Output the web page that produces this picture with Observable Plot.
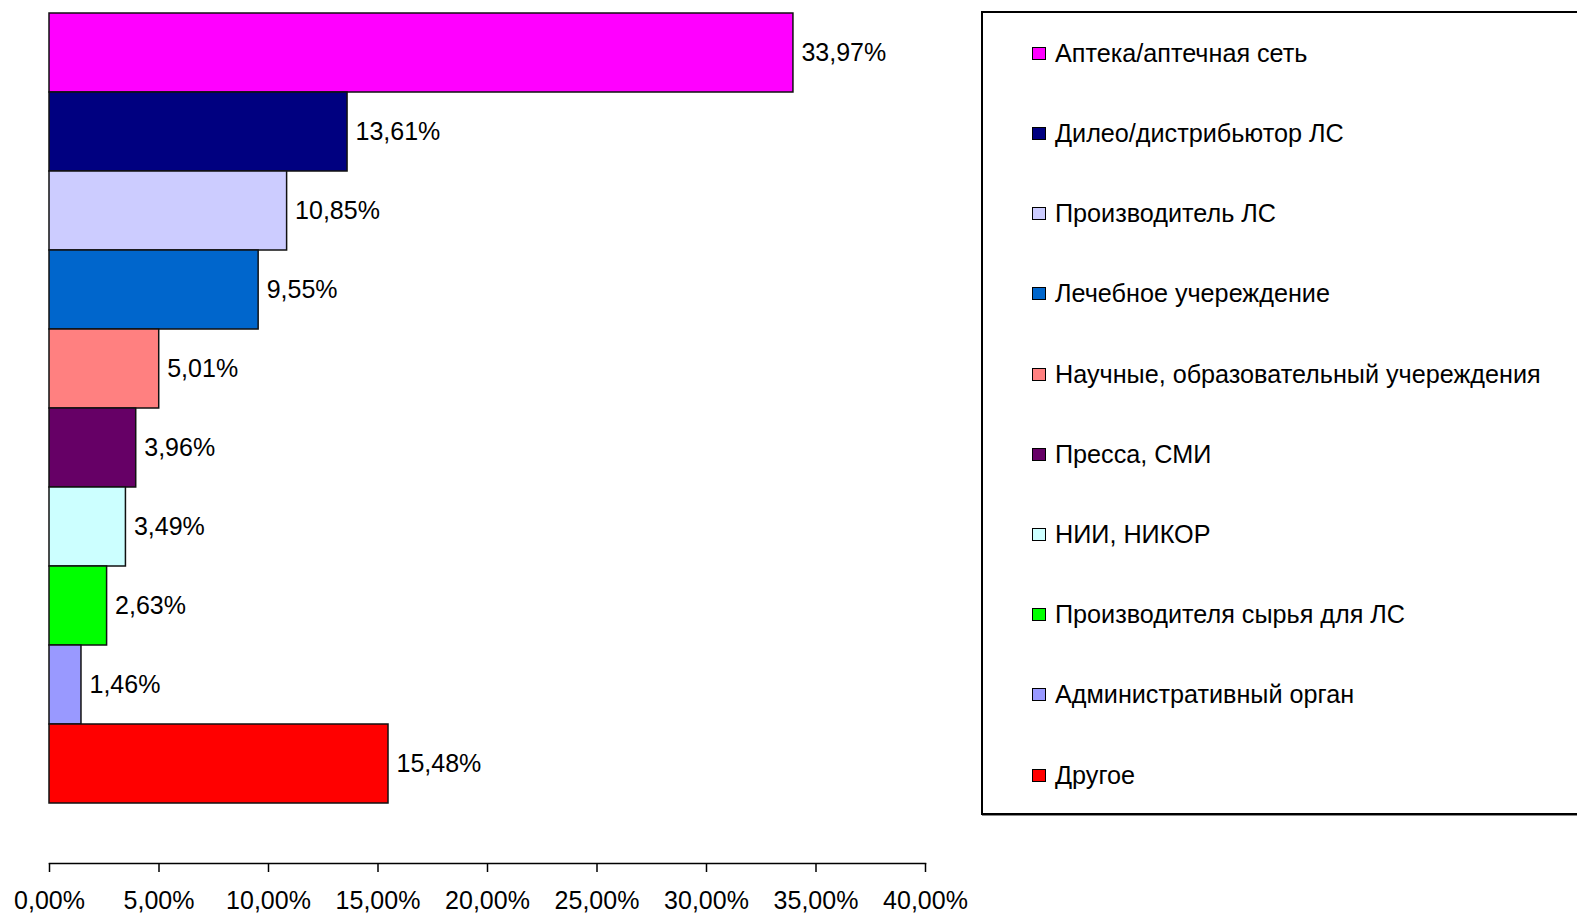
<!DOCTYPE html>
<html>
<head>
<meta charset="utf-8">
<script src="https://cdn.jsdelivr.net/npm/d3@7"></script>
<script src="https://cdn.jsdelivr.net/npm/@observablehq/plot@0.6"></script>
<style>
  html, body { margin: 0; padding: 0; background: #fff; overflow: hidden; }
  #wrap { position: relative; width: 1577px; height: 914px; font-family: "Liberation Sans", Arial, sans-serif; }
  #legend { position: absolute; left: 981px; top: 11px; width: 640px; height: 804px; border: 2px solid #000; box-shadow: 1px 1px 0 #888; box-sizing: border-box; background: #fff; }
  .item { position: absolute; left: 49px; height: 30px; display: flex; align-items: center; font-size: 25.2px; color: #000; white-space: nowrap; }
  .sw { width: 12px; height: 11px; border: 1px solid #000; margin-right: 9px; flex: none; }
</style>
</head>
<body>
<div id="wrap"><div id="chart"></div><div id="legend"></div></div>
<script>
const categories = [
  "Аптека/аптечная сеть",
  "Дилео/дистрибьютор ЛС",
  "Производитель ЛС",
  "Лечебное учереждение",
  "Научные, образовательный учереждения",
  "Пресса, СМИ",
  "НИИ, НИКОР",
  "Производителя сырья для ЛС",
  "Административный орган",
  "Другое"
];
const values = [33.97, 13.61, 10.85, 9.55, 5.01, 3.96, 3.49, 2.63, 1.46, 15.48];
const colors = ["#FF00FF", "#000080", "#CCCCFF", "#0066CC", "#FF8080", "#660066", "#CCFFFF", "#00FF00", "#9999FF", "#FF0000"];
const xTicks = [0, 5, 10, 15, 20, 25, 30, 35, 40];

const fmt = d => d.toFixed(2).replace(".", ",") + "%";
const data = categories.map((c, i) => ({cat: c, value: values[i], color: colors[i]}));

const chart = Plot.plot({
  width: 1577,
  height: 914,
  marginLeft: 49,
  marginRight: 652,
  marginTop: 11,
  marginBottom: 51,
  style: {fontFamily: "'Liberation Sans', Arial, sans-serif", background: "transparent"},
  x: {domain: [0, 40], axis: null},
  y: {domain: categories, range: [11, 804], padding: 0, axis: null},
  marks: [
    Plot.barX(data, {x: "value", y: "cat", fill: "color", stroke: "#111", strokeWidth: 1.5}),
    Plot.text(data, {x: "value", y: "cat", text: d => fmt(d.value), dx: 8, textAnchor: "start", fontSize: 25, fill: "#000"}),
    Plot.frame({anchor: "bottom", stroke: "#000", strokeWidth: 1.5}),
    Plot.axisX({anchor: "bottom", ticks: xTicks, tickFormat: fmt, tickSize: 9, tickPadding: 19, fontSize: 25, label: null, stroke: "#000", strokeWidth: 1.5, color: "#000"})
  ]
});
document.getElementById("chart").appendChild(chart);

const legend = document.getElementById("legend");
categories.forEach((c, i) => {
  const it = document.createElement("div");
  it.className = "item";
  it.style.top = (53.3 + i * 80.2 - 11 - 2 - 15) + "px";
  const sw = document.createElement("div");
  sw.className = "sw";
  sw.style.background = colors[i];
  const t = document.createElement("span");
  t.textContent = c;
  it.appendChild(sw);
  it.appendChild(t);
  legend.appendChild(it);
});
</script>
</body>
</html>
